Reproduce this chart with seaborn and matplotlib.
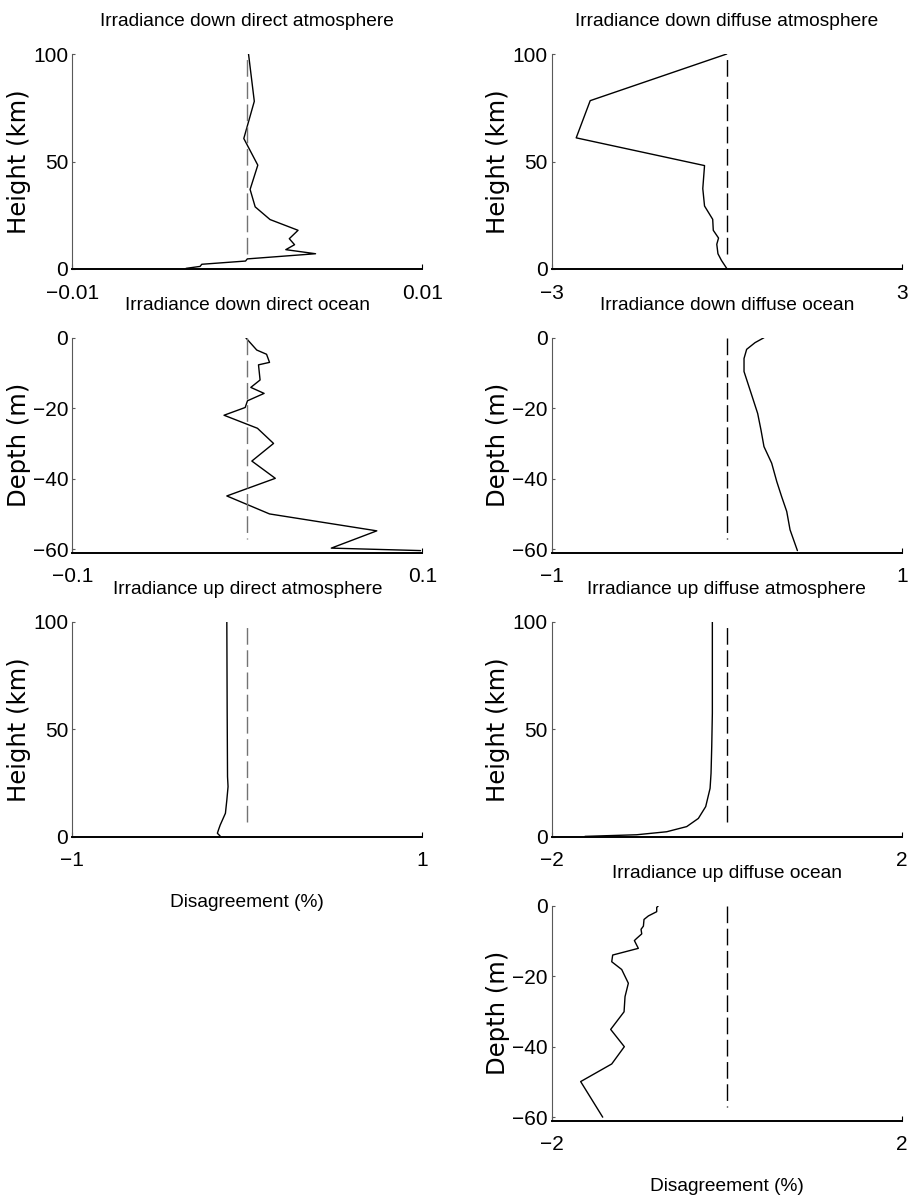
import matplotlib
matplotlib.use("Agg")
import matplotlib.pyplot as plt
import seaborn as sns
import pandas as pd

# ---------------- data ----------------
titles = [
    "Irradiance down direct atmosphere", "Irradiance down diffuse atmosphere",
    "Irradiance down direct ocean", "Irradiance down diffuse ocean",
    "Irradiance up direct atmosphere", "Irradiance up diffuse atmosphere",
    "Irradiance up diffuse ocean",
]

# down direct atmosphere
dda_x = [0.00007, 0.0004, -0.0002, 0.0006, 0.00016, 0.00045, 0.0013, 0.0029, 0.0024,
         0.0027, 0.0022, 0.0039, 0.0, -0.0001, -0.0026, -0.0027, -0.0035]
dda_y = [100, 78, 60.7, 48.3, 37, 28.9, 23, 18, 14.1, 11.3, 9, 7.1, 4.7, 3.7, 2.2, 1.2, 0.3]

# down diffuse atmosphere
dfa_x = [0.0, -2.34, -2.58, -0.38, -0.41, -0.38, -0.24, -0.23, -0.14, -0.17, -0.15, -0.09, 0.0]
dfa_y = [100, 78.3, 61, 48.1, 37.4, 29.3, 23.1, 18, 14.4, 11.5, 7.1, 4, 0.3]

# down direct ocean
ddo_x = [-0.0009, 0.0054, 0.011, 0.0127, 0.0064, 0.0073, 0.002, 0.0096, 0.0001, -0.0012,
         -0.0133, 0.0058, 0.015, 0.0026, 0.016, -0.0117, 0.0127, 0.074, 0.048, 0.099]
ddo_y = [0, -3.5, -4.7, -7, -7.7, -12, -14.1, -15.8, -17.9, -19.8,
         -22, -25.7, -30, -35, -39.9, -44.9, -50, -54.8, -59.7, -60.4]

# down diffuse ocean
dfo_x = [0.213, 0.162, 0.114, 0.099, 0.099, 0.118, 0.143, 0.177, 0.196, 0.213,
         0.257, 0.286, 0.314, 0.343, 0.362, 0.404]
dfo_y = [0, -1.4, -3.3, -5.9, -9.6, -12.5, -16.3, -21.5, -26.2, -30.9,
         -35.6, -40.8, -45.1, -49.3, -54.5, -60.4]

# up direct atmosphere
uda_x = [-0.117, -0.115, -0.113, -0.11, -0.117, -0.125, -0.155, -0.165, -0.171, -0.155]
uda_y = [100, 57.4, 27.9, 23.3, 17, 10.9, 5.4, 3.1, 1.6, 0.3]

# up diffuse atmosphere
ufa_x = [-0.164, -0.164, -0.171, -0.179, -0.19, -0.24, -0.324, -0.457, -0.686, -1.03, -1.62]
ufa_y = [100, 57.4, 41.9, 29.5, 22.5, 14, 8.5, 4.7, 2.3, 0.9, 0.15]

# up diffuse ocean
ufo_x = [-0.781, -0.8, -0.8, -0.895, -0.945, -0.952, -0.979, -0.971, -1.03, -1.055, -1.01,
         -1.303, -1.314, -1.2, -1.124, -1.162, -1.173, -1.326, -1.17, -1.314, -1.669, -1.417]
ufo_y = [0, -0.5, -1.7, -2.9, -3.9, -5.8, -6.7, -8, -9.3, -9.9, -12.1,
         -14, -15.9, -18.1, -22, -25.8, -30.1, -35.1, -40, -44.9, -49.9, -60]

# zero reference (dashed) extents
ref_atm_y = [7, 100]
ref_ocn_y = [0, -57]

xlims = [0.01, 3, 0.1, 1, 1, 2, 2]
x_ticklabels = [["\u22120.01", "0.01"], ["\u22123", "3"], ["\u22120.1", "0.1"], ["\u22121", "1"],
                ["\u22121", "1"], ["\u22122", "2"], ["\u22122", "2"]]
atm_yticks = [0, 50, 100]
ocn_yticks = [-60, -40, -20, 0]
ocn_yticklabels = ["\u221260", "\u221240", "\u221220", "0"]

series = [(dda_x, dda_y), (dfa_x, dfa_y), (ddo_x, ddo_y), (dfo_x, dfo_y),
          (uda_x, uda_y), (ufa_x, ufa_y), (ufo_x, ufo_y)]
is_atm = [True, True, False, False, True, True, False]

# ---------------- style ----------------
sns.set_theme(style="white")
narrow = ["Liberation Sans", "DejaVu Sans"]
plt.rcParams["font.family"] = narrow
plt.rcParams["axes.unicode_minus"] = True
plt.rcParams["text.color"] = "black"
plt.rcParams["axes.labelcolor"] = "black"
plt.rcParams["xtick.color"] = "black"
plt.rcParams["ytick.color"] = "black"

fig = plt.figure(figsize=(9.11, 12.03), dpi=100)

W, H = 911.0, 1203.0
col_left = [72.3, 551.7]
ax_w = 350.0
row_top = [54.0, 337.7, 621.7, 905.7]
ax_h = 215.0

positions = [(0, 0), (1, 0), (0, 1), (1, 1), (0, 2), (1, 2), (1, 3)]

TICK_FS = 15
TITLE_FS = 13.8
YLAB_FS = 17.5

for i, (col, row) in enumerate(positions):
    left = col_left[col] / W
    bottom = 1 - (row_top[row] + ax_h) / H
    ax = fig.add_axes([left, bottom, ax_w / W, ax_h / H])
    xs, ys = series[i]
    df = pd.DataFrame({"x": xs, "y": ys})
    sns.lineplot(data=df, x="x", y="y", sort=False, estimator=None, color="black",
                 lw=1.0, ax=ax)
    ref_y = ref_atm_y if is_atm[i] else ref_ocn_y
    ref = pd.DataFrame({"x": [0.0, 0.0], "y": ref_y})
    dash_col = "0.45" if col == 0 else "black"
    sns.lineplot(data=ref, x="x", y="y", sort=False, estimator=None, color=dash_col,
                 lw=1.0, ax=ax, linestyle=(0, (12, 4)))

    ax.set_xlim(-xlims[i], xlims[i])
    ax.set_xticks([-xlims[i], xlims[i]])
    ax.set_xticklabels(x_ticklabels[i], fontsize=TICK_FS, family=narrow, color="black")
    if is_atm[i]:
        ax.set_ylim(0, 100)
        ax.set_yticks(atm_yticks)
        ax.set_yticklabels([str(v) for v in atm_yticks], fontsize=TICK_FS, family=narrow,
                           color="black")
        ax.set_ylabel("Height (km)", fontsize=YLAB_FS, family=["DejaVu Sans"], color="black")
    else:
        ax.set_ylim(-61, 0)
        ax.set_yticks(ocn_yticks)
        ax.set_yticklabels(ocn_yticklabels, fontsize=TICK_FS, family=narrow, color="black")
        ax.set_ylabel("Depth (m)", fontsize=YLAB_FS, family=["DejaVu Sans"], color="black")
    ax.yaxis.set_label_coords(-0.118, 0.5)
    ax.set_xlabel("")
    ax.set_title(titles[i], fontsize=TITLE_FS, pad=20, family=narrow, color="black")

    for s in ["top", "right"]:
        ax.spines[s].set_visible(False)
    ax.spines["bottom"].set_color("black")
    ax.spines["bottom"].set_linewidth(1.4)
    ax.spines["left"].set_color("0.35")
    ax.spines["left"].set_linewidth(0.8)
    ax.tick_params(axis="x", direction="in", length=3.6, width=0.8, pad=10.5,
                   color="black", bottom=True)
    ax.tick_params(axis="y", direction="in", length=2.5, width=0.8, pad=3,
                   color="0.35", left=True)
    ax.set_facecolor("white")
    ax.grid(False)

    if i in (4, 6):
        ax.set_xlabel("Disagreement (%)", fontsize=TITLE_FS, family=narrow, color="black")
        ax.xaxis.set_label_coords(0.5, -0.265)

fig.savefig("out.png", dpi=100, facecolor="white")
